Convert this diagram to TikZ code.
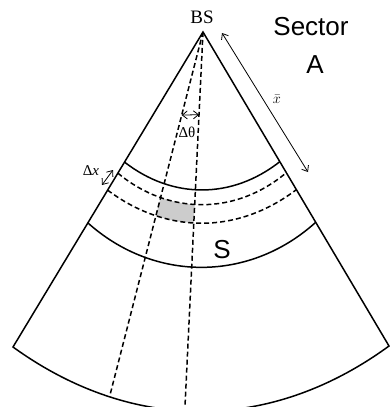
\documentclass[tikz,border=0pt]{standalone}
\usepackage{fontspec}
\usetikzlibrary{arrows.meta,calc}
\newfontfamily\labelsans{Liberation Sans}
\newfontfamily\labelserif{Liberation Serif}

\begin{document}
\begin{tikzpicture}[x=1pt,y=-1pt,line width=1.5pt,
  >={Straight Barb[length=5pt,width=8pt]},
  beam/.style={dash pattern=on 5pt off 3pt},
  dim/.style={<->,line width=0.8pt},
  big/.style={font=\labelsans\fontsize{26}{26}\selectfont,anchor=base},
  small/.style={font=\labelserif\fontsize{15}{15}\selectfont,anchor=base}]
  \useasboundingbox (0,0) rectangle (391,407);
  \coordinate (bs) at (203,32);
  \coordinate (left) at (13,347);
  \coordinate (right) at (389,346);
  \coordinate (beamA) at (110,395);
  \coordinate (beamB) at (185,406);
  % ring ends on both edges
  \foreach \n/\t in {a/0.413,b/0.448,c/0.502,d/0.606} {
    \coordinate (\n l) at ($(bs)!\t!(left)$);
    \coordinate (\n r) at ($(bs)!\t!(right)$);
  }
  % shaded cell
  \begin{scope}
    \clip (bs) -- (beamA) -- (beamB) -- cycle;
    \fill[black!20] (bl) to[bend right=40] (br) -- (cr) to[bend left=37] (cl) -- cycle;
  \end{scope}
  \draw (bs) -- (left) to[bend right=36] (right) -- cycle;
  \draw (al) to[bend right=38] (ar);
  \draw (dl) to[bend right=42] (dr);
  \draw[beam] (bl) to[bend right=40] (br);
  \draw[beam] (cl) to[bend right=37] (cr);
  \draw[beam] (bs) -- (beamA);
  \draw[beam] (bs) -- (beamB);
  % dimensions
  \coordinate (thA) at ($(bs)!0.229!(beamA)$);
  \coordinate (thB) at ($(bs)!0.221!(beamB)$);
  \draw[dim] (thA) -- (thB);
  \coordinate (dxA) at (113,170);
  \coordinate (dxB) at (102,185);
  \draw[dim] (dxA) -- (dxB);
  \coordinate (xbarA) at (222,33);
  \coordinate (xbarB) at (308,172);
  \draw[dim] (xbarA) -- (xbarB);
  % labels
  \node[small,font=\labelserif\fontsize{19}{19}\selectfont] (bslabel) at (202,23) {BS};
  \node[small] (dtheta) at (187,137) {Δθ};
  \node[small] (dx) at (91,175) {Δ\textit{x}};
  \node[anchor=base,font=\fontsize{15}{15}\selectfont] (xbar) at (277,103) {$\bar{x}$};
  \node[big] (sector) at (311,35) {Sector};
  \node[big] (sectorA) at (315,73) {A};
  \node[big] (s) at (222,258) {S};
\end{tikzpicture}
\end{document}
